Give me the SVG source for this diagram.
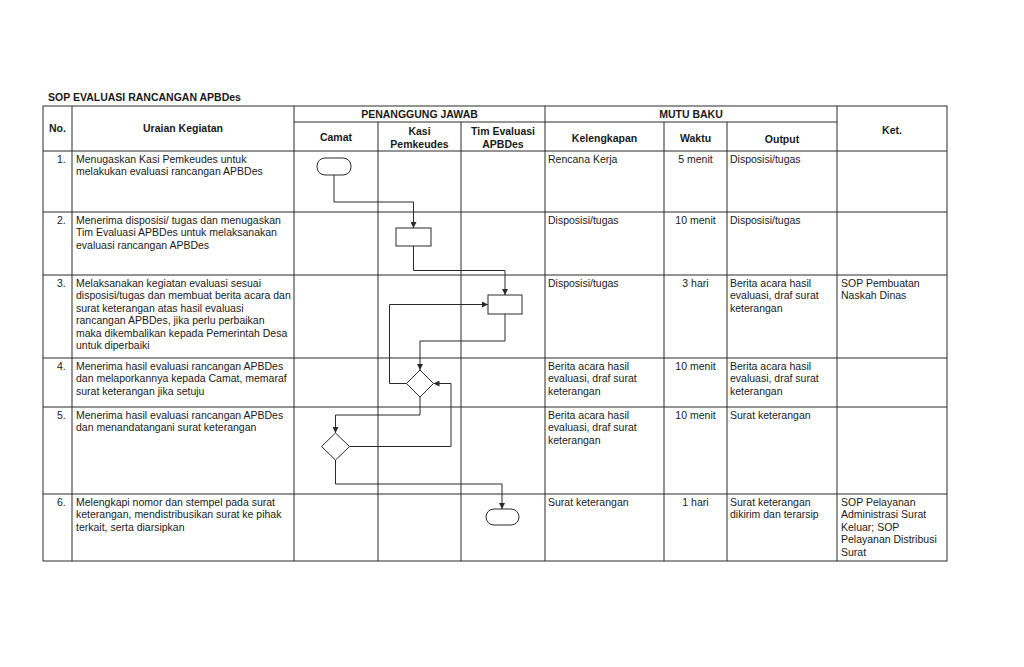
<svg xmlns="http://www.w3.org/2000/svg" width="1024" height="667" viewBox="0 0 1024 667">
<defs>
<style>
.t{font-family:"Liberation Sans",Arial,sans-serif;font-size:10.5px;fill:#1a1a1a}
.h{font-family:"Liberation Sans",Arial,sans-serif;font-size:10.5px;font-weight:bold;fill:#1a1a1a;text-anchor:middle}
.c{text-anchor:middle}
.g{stroke:#2a2a2a;stroke-width:1;fill:none}
.n{stroke:#2a2a2a;stroke-width:1;fill:#fff}
.k{stroke:#2a2a2a;stroke-width:1;fill:none}
</style>
<marker id="ar" markerUnits="userSpaceOnUse" markerWidth="6" markerHeight="6" refX="6" refY="3" orient="auto">
<path d="M0,0 L6,3 L0,6 z" fill="#2a2a2a"/>
</marker>
</defs>
<rect width="1024" height="667" fill="#fff"/>
<text class="h" x="48" y="101" style="text-anchor:start">SOP EVALUASI RANCANGAN APBDes</text>
<g id="table">
<rect class="g" x="43" y="106" width="904" height="455"/>
<path class="g" d="M72,106V561M294,106V561M545,106V561M837,106V561M378,122V561M461,122V561M664,122V561M727,122V561M294,122H837M43,151H947M43,212H947M43,275H947M43,358H947M43,407H947M43,494H947"/>
</g>
<g id="header">
<text class="h" x="57.5" y="132">No.</text>
<text class="h" x="183" y="132">Uraian Kegiatan</text>
<text class="h" x="419.5" y="118">PENANGGUNG JAWAB</text>
<text class="h" x="691" y="118">MUTU BAKU</text>
<text class="h" x="892" y="134">Ket.</text>
<text class="h" x="336" y="141">Camat</text>
<text class="h" x="419.5" y="135">Kasi</text>
<text class="h" x="419.5" y="148">Pemkeudes</text>
<text class="h" x="503" y="135">Tim Evaluasi</text>
<text class="h" x="503" y="148">APBDes</text>
<text class="h" x="604.5" y="142">Kelengkapan</text>
<text class="h" x="695.5" y="142">Waktu</text>
<text class="h" x="782" y="143">Output</text>
</g>
<g id="row1">
<text class="t" x="57" y="162.5">1.</text>
<text class="t" x="76" y="162.5">Menugaskan Kasi Pemkeudes untuk</text>
<text class="t" x="76" y="175">melakukan evaluasi rancangan APBDes</text>
<text class="t" x="548" y="162.5">Rencana Kerja</text>
<text class="t c" x="695.5" y="162.5">5 menit</text>
<text class="t" x="730" y="162.5">Disposisi/tugas</text>
</g>
<g id="row2">
<text class="t" x="57" y="223.5">2.</text>
<text class="t" x="76" y="223.5">Menerima disposisi/ tugas dan menugaskan</text>
<text class="t" x="76" y="236">Tim Evaluasi APBDes untuk melaksanakan</text>
<text class="t" x="76" y="248.5">evaluasi rancangan APBDes</text>
<text class="t" x="548" y="223.5">Disposisi/tugas</text>
<text class="t c" x="695.5" y="223.5">10 menit</text>
<text class="t" x="730" y="223.5">Disposisi/tugas</text>
</g>
<g id="row3">
<text class="t" x="57" y="286.5">3.</text>
<text class="t" x="76" y="286.5">Melaksanakan kegiatan evaluasi sesuai</text>
<text class="t" x="76" y="299">disposisi/tugas dan membuat berita acara dan</text>
<text class="t" x="76" y="311.5">surat keterangan atas hasil evaluasi</text>
<text class="t" x="76" y="324">rancangan APBDes, jika perlu perbaikan</text>
<text class="t" x="76" y="336.5">maka dikembalikan kepada Pemerintah Desa</text>
<text class="t" x="76" y="349">untuk diperbaiki</text>
<text class="t" x="548" y="286.5">Disposisi/tugas</text>
<text class="t c" x="695.5" y="286.5">3 hari</text>
<text class="t" x="730" y="286.5">Berita acara hasil</text>
<text class="t" x="730" y="299">evaluasi, draf surat</text>
<text class="t" x="730" y="311.5">keterangan</text>
<text class="t" x="841" y="286.5">SOP Pembuatan</text>
<text class="t" x="841" y="299">Naskah Dinas</text>
</g>
<g id="row4">
<text class="t" x="57" y="369.5">4.</text>
<text class="t" x="76" y="369.5">Menerima hasil evaluasi rancangan APBDes</text>
<text class="t" x="76" y="382">dan melaporkannya kepada Camat, memaraf</text>
<text class="t" x="76" y="394.5">surat keterangan jika setuju</text>
<text class="t" x="548" y="369.5">Berita acara hasil</text>
<text class="t" x="548" y="382">evaluasi, draf surat</text>
<text class="t" x="548" y="394.5">keterangan</text>
<text class="t c" x="695.5" y="369.5">10 menit</text>
<text class="t" x="730" y="369.5">Berita acara hasil</text>
<text class="t" x="730" y="382">evaluasi, draf surat</text>
<text class="t" x="730" y="394.5">keterangan</text>
</g>
<g id="row5">
<text class="t" x="57" y="418.5">5.</text>
<text class="t" x="76" y="418.5">Menerima hasil evaluasi rancangan APBDes</text>
<text class="t" x="76" y="431">dan menandatangani surat keterangan</text>
<text class="t" x="548" y="418.5">Berita acara hasil</text>
<text class="t" x="548" y="431">evaluasi, draf surat</text>
<text class="t" x="548" y="443.5">keterangan</text>
<text class="t c" x="695.5" y="418.5">10 menit</text>
<text class="t" x="730" y="418.5">Surat keterangan</text>
</g>
<g id="row6">
<text class="t" x="57" y="505.5">6.</text>
<text class="t" x="76" y="505.5">Melengkapi nomor dan stempel pada surat</text>
<text class="t" x="76" y="518">keterangan, mendistribusikan surat ke pihak</text>
<text class="t" x="76" y="530.5">terkait, serta diarsipkan</text>
<text class="t" x="548" y="505.5">Surat keterangan</text>
<text class="t c" x="695.5" y="505.5">1 hari</text>
<text class="t" x="730" y="505.5">Surat keterangan</text>
<text class="t" x="730" y="518">dikirim dan terarsip</text>
<text class="t" x="841" y="505.5">SOP Pelayanan</text>
<text class="t" x="841" y="518">Administrasi Surat</text>
<text class="t" x="841" y="530.5">Keluar; SOP</text>
<text class="t" x="841" y="543">Pelayanan Distribusi</text>
<text class="t" x="841" y="555.5">Surat</text>
</g>
<g id="connectors">
<path class="k" d="M334,175V202H413.5V228" marker-end="url(#ar)"/>
<path class="k" d="M413.5,246V270.5H505V295" marker-end="url(#ar)"/>
<path class="k" d="M505,314V341H420V370" marker-end="url(#ar)"/>
<path class="k" d="M406.5,383.5H389.5V304.5H488" marker-end="url(#ar)"/>
<path class="k" d="M420,397V415H335.5V433" marker-end="url(#ar)"/>
<path class="k" d="M349.5,446.5H451V383.5H433.5" marker-end="url(#ar)"/>
<path class="k" d="M335.5,460V484H502V509" marker-end="url(#ar)"/>
</g>
<g id="start"><rect class="n" x="317" y="158" width="34" height="17" rx="8"/></g>
<g id="kasi-process"><rect class="n" x="396" y="228" width="35" height="18"/></g>
<g id="tim-process"><rect class="n" x="488" y="295" width="34" height="19"/></g>
<g id="kasi-decision"><polygon class="n" points="420,370 433.5,383.5 420,397 406.5,383.5"/></g>
<g id="camat-decision"><polygon class="n" points="335.5,433 349.5,446.5 335.5,460 321.5,446.5"/></g>
<g id="end"><rect class="n" x="486" y="509" width="33" height="16" rx="8"/></g>
</svg>
